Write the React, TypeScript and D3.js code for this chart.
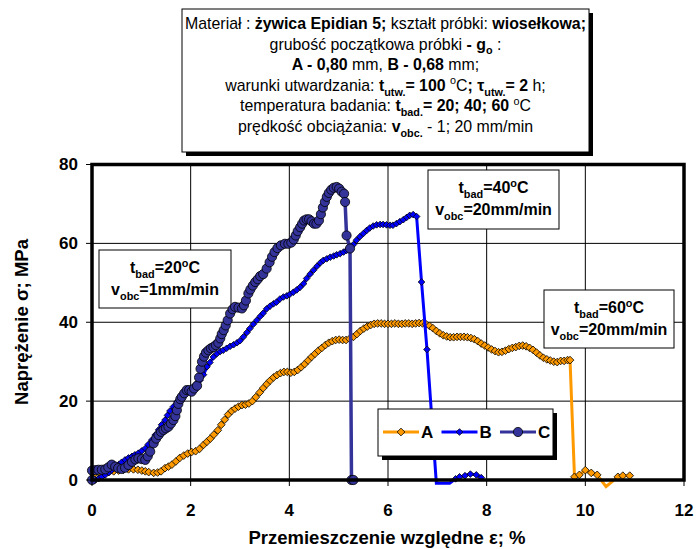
import React from 'react';
import * as d3 from 'd3';

// curve A (orange diamonds)
const aX = [0.05, 0.15, 0.25, 0.34, 0.44, 0.54, 0.64, 0.74, 0.84, 0.93, 1.01, 1.08, 1.15, 1.25, 1.33, 1.4, 1.48, 1.55, 1.62, 1.7, 1.78, 1.86, 1.94, 2.02, 2.1, 2.18, 2.26, 2.33, 2.4, 2.47, 2.55, 2.62, 2.69, 2.76, 2.83, 2.9, 2.97, 3.04, 3.11, 3.18, 3.25, 3.32, 3.4, 3.47, 3.54, 3.61, 3.68, 3.75, 3.82, 3.89, 3.96, 4.03, 4.1, 4.17, 4.24, 4.31, 4.38, 4.45, 4.52, 4.59, 4.66, 4.73, 4.8, 4.87, 4.94, 5.01, 5.08, 5.15, 5.22, 5.3, 5.37, 5.44, 5.51, 5.58, 5.65, 5.72, 5.79, 5.86, 5.93, 6.0, 6.07, 6.14, 6.21, 6.28, 6.35, 6.42, 6.49, 6.56, 6.63, 6.7, 6.77, 6.84, 6.91, 6.98, 7.05, 7.12, 7.19, 7.26, 7.33, 7.4, 7.47, 7.54, 7.61, 7.68, 7.75, 7.82, 7.89, 7.96, 8.03, 8.1, 8.17, 8.24, 8.31, 8.38, 8.45, 8.52, 8.59, 8.66, 8.73, 8.8, 8.87, 8.94, 9.01, 9.08, 9.15, 9.22, 9.29, 9.36, 9.43, 9.5, 9.57, 9.64, 9.69, 9.78, 9.88, 10.0, 10.12, 10.24, 10.42, 10.66, 10.76, 10.9];
const aY = [1.5, 1.8, 1.9, 2.0, 2.2, 2.4, 2.6, 2.7, 2.7, 2.6, 2.4, 2.2, 2.0, 1.8, 1.9, 2.2, 3.0, 3.4, 3.9, 4.7, 5.6, 6.2, 6.7, 7.1, 7.3, 7.9, 8.9, 9.7, 10.5, 11.5, 12.6, 14.0, 15.3, 16.6, 17.5, 18.1, 18.6, 19.0, 19.1, 19.4, 20.0, 21.0, 22.2, 23.3, 24.3, 25.2, 26.0, 26.6, 27.1, 27.4, 27.4, 27.2, 27.4, 27.9, 28.6, 29.4, 30.3, 31.2, 32.0, 32.8, 33.5, 34.2, 34.8, 35.2, 35.5, 35.6, 35.5, 35.5, 35.8, 36.3, 37.0, 37.8, 38.4, 38.9, 39.3, 39.6, 39.7, 39.7, 39.6, 39.6, 39.6, 39.7, 39.6, 39.6, 39.7, 39.7, 39.6, 39.7, 39.8, 39.7, 39.5, 39.1, 38.5, 37.8, 37.2, 36.7, 36.4, 36.2, 36.2, 36.3, 36.3, 36.3, 36.2, 36.0, 35.7, 35.2, 34.6, 34.1, 33.6, 33.1, 32.7, 32.4, 32.5, 32.8, 33.2, 33.5, 33.7, 34.0, 34.1, 33.9, 33.5, 33.0, 32.3, 31.6, 31.0, 30.6, 30.3, 30.0, 29.9, 30.2, 30.2, 30.4, 30.4, 0.8, 1.3, 2.5, 1.8, 1.3, -1.7, 0.8, 1.1, 1.1];

// curve B (blue diamonds)
const bX = [0, 0.07, 0.14, 0.2, 0.27, 0.34, 0.4, 0.47, 0.54, 0.6, 0.67, 0.74, 0.81, 0.87, 0.94, 1.01, 1.08, 1.14, 1.21, 1.28, 1.35, 1.41, 1.48, 1.53, 1.58, 1.65, 1.72, 1.78, 1.85, 1.92, 1.99, 2.06, 2.12, 2.19, 2.26, 2.33, 2.39, 2.46, 2.53, 2.6, 2.66, 2.73, 2.8, 2.87, 2.94, 3.0, 3.07, 3.14, 3.2, 3.27, 3.34, 3.41, 3.47, 3.54, 3.61, 3.68, 3.74, 3.81, 3.88, 3.95, 4.01, 4.08, 4.15, 4.22, 4.29, 4.35, 4.42, 4.49, 4.56, 4.63, 4.69, 4.76, 4.83, 4.9, 4.96, 5.03, 5.1, 5.16, 5.23, 5.3, 5.36, 5.43, 5.5, 5.57, 5.63, 5.7, 5.77, 5.84, 5.9, 5.97, 6.04, 6.1, 6.17, 6.24, 6.31, 6.38, 6.44, 6.51, 6.58, 6.68, 6.79, 6.98, 7.1, 7.25, 7.37, 7.45, 7.56, 7.67, 7.79, 7.89];
const bY = [0, 0, 0.4, 0.8, 1.3, 1.9, 2.5, 3.2, 3.9, 4.5, 5.1, 5.6, 6.0, 6.4, 6.8, 7.4, 8.0, 9.0, 10.1, 11.4, 12.7, 14.0, 15.2, 16.4, 17.5, 18.6, 19.8, 20.6, 21.3, 21.9, 22.7, 23.6, 24.5, 25.3, 26.7, 28.7, 29.8, 31.2, 32.0, 32.6, 32.9, 33.4, 33.9, 34.3, 34.8, 35.3, 36.3, 37.4, 38.4, 39.5, 40.5, 41.5, 42.3, 43.4, 44.1, 44.7, 45.1, 45.9, 46.4, 46.7, 47.1, 47.6, 48.2, 48.9, 49.8, 51.1, 52.2, 53.2, 54.2, 55.1, 55.7, 56.1, 56.5, 56.8, 57.1, 57.4, 57.8, 58.2, 58.7, 59.7, 60.8, 61.7, 62.5, 63.3, 63.9, 64.4, 64.7, 64.8, 64.8, 64.7, 64.6, 64.6, 65.0, 65.5, 66.0, 66.6, 67.1, 67.3, 66.8, 50.2, 33.1, -0.8, -0.8, -0.8, 0.3, 0.8, 1.1, 1.5, 1.3, 0.6];

// curve C (dark blue circles)
const cX = [0, 0, 0.07, 0.13, 0.2, 0.27, 0.33, 0.4, 0.47, 0.53, 0.6, 0.67, 0.74, 0.81, 0.88, 0.94, 1.01, 1.08, 1.13, 1.18, 1.25, 1.3, 1.35, 1.4, 1.45, 1.5, 1.55, 1.6, 1.65, 1.69, 1.72, 1.75, 1.79, 1.82, 1.87, 1.92, 1.97, 2.02, 2.07, 2.13, 2.17, 2.2, 2.23, 2.27, 2.31, 2.36, 2.41, 2.46, 2.51, 2.56, 2.6, 2.63, 2.67, 2.71, 2.75, 2.8, 2.85, 2.9, 2.97, 3.04, 3.08, 3.12, 3.17, 3.21, 3.26, 3.31, 3.36, 3.41, 3.47, 3.54, 3.6, 3.65, 3.7, 3.76, 3.83, 3.91, 3.98, 4.04, 4.09, 4.13, 4.17, 4.22, 4.26, 4.3, 4.35, 4.4, 4.45, 4.5, 4.55, 4.6, 4.64, 4.68, 4.72, 4.76, 4.8, 4.85, 4.9, 4.96, 5.01, 5.06, 5.11, 5.13, 5.16, 5.23, 5.26, 5.3];
const cY = [0, 2.4, 2.5, 2.6, 2.6, 2.7, 3.2, 3.9, 3.4, 3.0, 2.8, 3.1, 3.8, 4.6, 5.2, 5.5, 5.3, 5.1, 6.0, 7.2, 9.3, 10.5, 11.4, 12.2, 12.7, 13.1, 13.5, 14.3, 15.2, 16.2, 17.7, 19.3, 20.5, 21.1, 22.0, 22.8, 22.8, 22.4, 23.2, 23.9, 26.0, 28.2, 30.0, 31.3, 32.3, 32.9, 33.4, 33.7, 34.2, 34.8, 35.9, 37.0, 38.0, 39.2, 40.5, 42.2, 43.3, 43.9, 43.7, 43.5, 44.3, 45.5, 47.3, 48.3, 49.3, 50.2, 50.9, 51.7, 52.2, 53.6, 55.2, 56.6, 57.8, 58.8, 59.5, 59.9, 59.9, 60.2, 61.0, 62.0, 63.1, 64.1, 65.0, 65.8, 66.1, 66.1, 65.6, 65.0, 65.0, 65.8, 67.4, 69.1, 70.5, 71.8, 72.8, 73.6, 74.1, 74.3, 73.9, 73.1, 72.6, 70.5, 62.0, 58.7, 0, 0];

const xTicks = [0, 2, 4, 6, 8, 10, 12];
const yTicks = [0, 20, 40, 60, 80];
const seriesNames = ['A', 'B', 'C'];

const FONT = '"Liberation Sans", Arial, sans-serif';

type Seg = { t: string; b?: boolean; s?: 'sub' | 'sup' };

const headerLines: Seg[][] = [
  [{ t: 'Materiał : ' }, { t: 'żywica Epidian 5;', b: true }, { t: ' kształt próbki: ' }, { t: 'wiosełkowa;', b: true }],
  [{ t: 'grubość początkowa próbki ' }, { t: '- g', b: true }, { t: 'o', b: true, s: 'sub' }, { t: ' :' }],
  [{ t: 'A - 0,80', b: true }, { t: ' mm, ' }, { t: 'B - 0,68', b: true }, { t: ' mm;' }],
  [{ t: 'warunki utwardzania: ' }, { t: 't', b: true }, { t: 'utw.', b: true, s: 'sub' }, { t: '= 100 ', b: true }, { t: 'o', s: 'sup' }, { t: 'C' }, { t: '; τ', b: true }, { t: 'utw.', b: true, s: 'sub' }, { t: '= 2', b: true }, { t: ' h;' }],
  [{ t: 'temperatura badania: ' }, { t: 't', b: true }, { t: 'bad.', b: true, s: 'sub' }, { t: '= 20; 40; 60 ', b: true }, { t: 'o', s: 'sup' }, { t: 'C' }],
  [{ t: 'prędkość obciążania: ' }, { t: 'v', b: true }, { t: 'obc.', b: true, s: 'sub' }, { t: ' - 1; 20 mm/min' }],
];

const noteLines = (temp: string, rate: string): Seg[][] => [
  [{ t: 't', b: true }, { t: 'bad', b: true, s: 'sub' }, { t: '=' + temp, b: true }, { t: 'o', b: true, s: 'sup' }, { t: 'C', b: true }],
  [{ t: 'v', b: true }, { t: 'obc', b: true, s: 'sub' }, { t: '=' + rate, b: true }],
];

function Rich({ segs, size }: { segs: Seg[]; size: number }) {
  let off = 0;
  return (
    <>
      {segs.map((sg, i) => {
        const target = sg.s === 'sub' ? size * 0.3 : sg.s === 'sup' ? -size * 0.4 : 0;
        const dy = target - off;
        off = target;
        return (
          <tspan key={i} dy={dy} fontWeight={sg.b ? 'bold' : 'normal'} fontSize={sg.s ? size * 0.68 : size}>
            {sg.t}
          </tspan>
        );
      })}
    </>
  );
}

export default function App() {
  const x = d3.scaleLinear().domain([0, 12]).range([92, 684]);
  const y = d3.scaleLinear().domain([0, 80]).range([480, 164.5]);

  const ptsA = aX.map((v, i) => [v, aY[i]] as [number, number]);
  const ptsB = bX.map((v, i) => [v, bY[i]] as [number, number]);
  const ptsC = cX.map((v, i) => [v, cY[i]] as [number, number]);

  const line = d3.line<[number, number]>().x(d => x(d[0])).y(d => y(d[1]));
  const diamond = d3.symbol().type(d3.symbolDiamond2);

  const colA = '#FF9900', colB = '#0000FF', colC = '#333399';

  const notes = [
    { x: 99, y: 250, w: 132, h: 58, lines: noteLines('20', '1mm/min') },
    { x: 428, y: 170, w: 131, h: 59, lines: noteLines('40', '20mm/min') },
    { x: 544, y: 290, w: 130, h: 58, lines: noteLines('60', '20mm/min') },
  ];

  return (
    <svg width={696} height={549} style={{ position: 'absolute', left: 0, top: 0, background: '#fff' }} fontFamily={FONT}>
      {/* grid */}
      {xTicks.slice(1, -1).map(t => (
        <line key={'gx' + t} x1={x(t)} x2={x(t)} y1={y(80)} y2={y(0)} stroke="#000" strokeWidth={1} />
      ))}
      {yTicks.slice(1, -1).map(t => (
        <line key={'gy' + t} x1={x(0)} x2={x(12)} y1={y(t)} y2={y(t)} stroke="#000" strokeWidth={1} />
      ))}

      {/* header box */}
      <rect x={186} y={13} width={407} height={143} fill="#000" />
      <rect x={182} y={9} width={407} height={143} fill="#fff" stroke="#000" strokeWidth={1} />
      {headerLines.map((ln, i) => (
        <text key={'h' + i} x={385.5} y={29 + i * 20.6} textAnchor="middle" fontSize={15.9} fill="#000">
          <Rich segs={ln} size={15.9} />
        </text>
      ))}

      {/* notes */}
      {notes.map((n, i) => (
        <g key={'n' + i}>
          <rect x={n.x} y={n.y} width={n.w} height={n.h} fill="#fff" stroke="#000" strokeWidth={1} />
          {n.lines.map((ln, j) => (
            <text key={j} x={n.x + n.w / 2} y={n.y + 23 + j * 22} textAnchor="middle" fontSize={16}>
              <Rich segs={ln} size={16} />
            </text>
          ))}
        </g>
      ))}

      {/* curves */}
      <path d={line(ptsA) || ''} fill="none" stroke={colA} strokeWidth={3} />
      {ptsA.filter(d => d[1] >= 0).map((d, i) => (
        <path key={'ma' + i} d={diamond.size(38)() || ''} transform={`translate(${x(d[0])},${y(d[1])})`} fill={colA} stroke="#000" strokeWidth={0.8} />
      ))}
      <path d={line(ptsB) || ''} fill="none" stroke={colB} strokeWidth={3} />
      {ptsB.filter(d => d[1] >= 0).map((d, i) => (
        <path key={'mb' + i} d={diamond.size(28)() || ''} transform={`translate(${x(d[0])},${y(d[1])})`} fill={colB} stroke="#000" strokeWidth={0.8} />
      ))}
      <path d={line(ptsC) || ''} fill="none" stroke={colC} strokeWidth={3.5} />
      {ptsC.map((d, i) => (
        <circle key={'mc' + i} cx={x(d[0])} cy={y(d[1])} r={4.6} fill={colC} stroke="#000" strokeWidth={0.8} />
      ))}

      {/* frame */}
      <rect x={x(0)} y={y(80)} width={x(12) - x(0)} height={y(0) - y(80)} fill="none" stroke="#000" strokeWidth={3.5} />
      {xTicks.map(t => (
        <g key={'tx' + t}>
          <line x1={x(t)} x2={x(t)} y1={y(0)} y2={y(0) + 6} stroke="#000" strokeWidth={1} />
          <text x={x(t)} y={516} textAnchor="middle" fontSize={17} fontWeight="bold">{t}</text>
        </g>
      ))}
      {yTicks.map(t => (
        <g key={'ty' + t}>
          <line x1={x(0) - 6} x2={x(0)} y1={y(t)} y2={y(t)} stroke="#000" strokeWidth={1} />
          <text x={78} y={y(t)} dy="0.35em" textAnchor="end" fontSize={17} fontWeight="bold">{t}</text>
        </g>
      ))}

      {/* axis titles */}
      <text x={387} y={544} textAnchor="middle" fontSize={18.5} fontWeight="bold">Przemieszczenie względne ε; %</text>
      <text transform="translate(28,322) rotate(-90)" textAnchor="middle" fontSize={18.5} fontWeight="bold">Naprężenie σ; MPa</text>

      {/* legend */}
      <rect x={382} y={413} width={175} height={47} fill="#000" />
      <rect x={378} y={409} width={175} height={47} fill="#fff" stroke="#000" strokeWidth={1} />
      {seriesNames.map((nm, i) => {
        const lx = 383 + i * 58.5;
        const ly = 432;
        const col = [colA, colB, colC][i];
        return (
          <g key={'lg' + nm}>
            <line x1={lx} x2={lx + 36} y1={ly} y2={ly} stroke={col} strokeWidth={3} />
            {i === 2 ? (
              <circle cx={lx + 18} cy={ly} r={4.6} fill={col} stroke="#000" strokeWidth={0.8} />
            ) : (
              <path d={diamond.size(i === 0 ? 38 : 28)() || ''} transform={`translate(${lx + 18},${ly})`} fill={col} stroke="#000" strokeWidth={0.8} />
            )}
            <text x={lx + 38} y={ly} dy="0.36em" fontSize={17} fontWeight="bold">{nm}</text>
          </g>
        );
      })}
    </svg>
  );
}
